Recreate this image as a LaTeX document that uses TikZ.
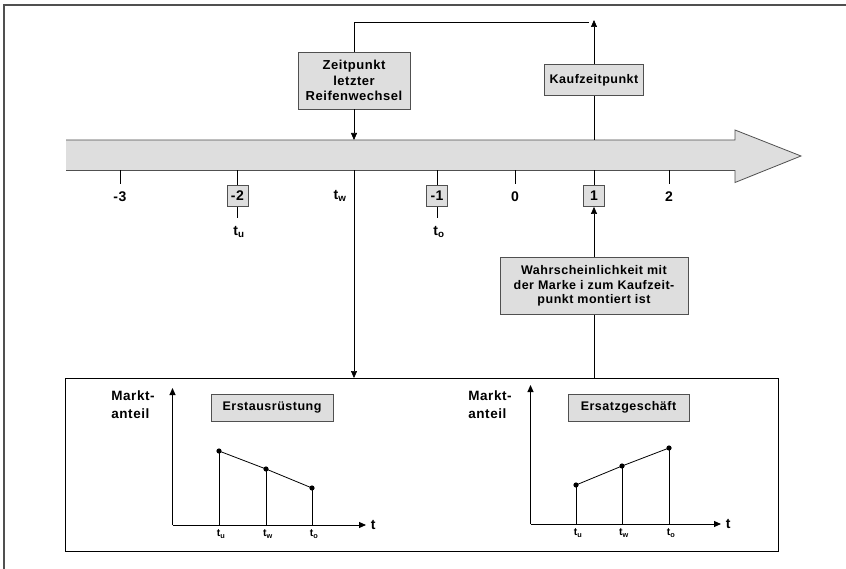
\documentclass[tikz,border=0pt]{standalone}
\usepackage{fontspec}
\setmainfont{Liberation Sans}[LetterSpace=4.0]
\usetikzlibrary{arrows.meta,positioning,calc}
\definecolor{boxG}{HTML}{DEDEDE}
\definecolor{lineG}{HTML}{505050}

\begin{document}
\begin{tikzpicture}[x=1pt,y=-1pt,
  every node/.style={font=\fontsize{12.5}{15}\selectfont\bfseries},
  lbl/.style={fill=boxG,draw=lineG,line width=0.8pt,align=center,inner sep=2pt},
  arr/.style={-{Triangle[length=7pt,width=6pt]},line width=0.6pt},
  num/.style={font=\fontsize{14}{16}\selectfont\bfseries},
  sub/.style={font=\fontsize{10.5}{12}\selectfont\bfseries}]
  \useasboundingbox (0,0) rectangle (846,569);
  \draw[lineG,line width=1.2pt] (846,5) -- (4,5) -- (4,569);
  % time arrow
  \fill[boxG] (66,140) -- (735,140) -- (735,130) -- (801,156) -- (735,182.5) -- (735,170.5) -- (66,170.5) -- cycle;
  \draw[lineG,line width=0.8pt] (66,140) -- (735,140) -- (735,130) -- (801,156) -- (735,182.5) -- (735,170.5) -- (66,170.5);
  \coordinate (bandtop) at (0,140);
  \coordinate (bandbot) at (0,170.5);
  \foreach \x/\n/\t in {120/m3/-3, 515/p0/0, 669/p2/2}{
    \draw[line width=1pt] (\x,170.5) -- (\x,184);
    \node[num] (\n) at (\x,197) {\t};}
  \foreach \x/\n/\t in {237.5/m2/-2, 437/m1/-1, 594/p1/1}{
    \node[lbl,num,minimum size=21pt,inner sep=1pt] (\n) at (\x,196) {\t};
    \draw[line width=1pt] (\x,170.5) -- (\n.north);}
  \draw[line width=1pt] (m2.south) -- ++(0,11);
  \draw[line width=1pt] (m1.south) -- ++(0,11);
  \node[num] (tu) at (239,232) {t\textsubscript{u}};
  \node[num] (to) at (439,232) {t\textsubscript{o}};
  \node[num] (tw) at (340,196) {t\textsubscript{w}};
  % boxes
  \node[lbl,minimum width=112pt,minimum height=57pt,font=\fontsize{13}{15.4}\selectfont\bfseries] (zeit) at (354,80.5) {Zeitpunkt\\letzter\\Reifenwechsel};
  \node[lbl,minimum width=99pt,minimum height=31pt] (kauf) at (594,80) {Kaufzeitpunkt};
  \node[lbl,minimum width=188pt,minimum height=57pt,font=\fontsize{12.5}{14.5}\selectfont\bfseries] (wahr) at (594,286) {Wahrscheinlichkeit mit\\der Marke i zum Kaufzeit-\\punkt montiert ist};
  \node[draw,line width=1pt,minimum width=713pt,minimum height=172.5pt] (panel) at (421.5,464.8) {};
  \coordinate (topend) at (589,22);
  \coordinate (top) at (594,20);
  % connectors
  \draw[line width=0.6pt] (zeit.north) |- (topend);
  \draw[arr] (zeit.south) -- (zeit.south |- bandtop);
  \draw[arr] (zeit.south |- bandbot) -- (zeit.south |- panel.north);
  \draw[line width=0.6pt] (kauf.south |- bandtop) -- (kauf.south);
  \draw[arr] (kauf.north) -- (kauf.north |- top);
  \draw[arr] (wahr.north) -- (p1.south);
  \draw[line width=0.6pt] (p1.south |- panel.north) -- (wahr.south);
  % charts
  \node[align=left,font=\fontsize{13.5}{15}\selectfont\bfseries] (ma1) at (133,404.5) {Markt-\\[3pt]anteil};
  \node[align=left,font=\fontsize{13.5}{15}\selectfont\bfseries] (ma2) at (490,404.5) {Markt-\\[3pt]anteil};
  \node[lbl,minimum width=122pt,minimum height=27pt] (erst) at (272,407.5) {Erstausrüstung};
  \node[lbl,minimum width=121pt,minimum height=27pt] (ersatz) at (628.5,407.5) {Ersatzgeschäft};
  \draw[arr,line width=0.9pt] (172.5,525) -- (172.5,388);
  \draw[arr,line width=0.9pt] (172.5,525) -- (366,525) node[num,right=1pt] (t1) {t};
  \draw[arr,line width=0.9pt] (530.5,524) -- (530.5,385);
  \draw[arr,line width=0.9pt] (530.5,524) -- (721,524) node[num,right=1pt] (t2) {t};
  \foreach \x/\y/\s in {219/451/u, 266/469/w, 312/488/o}{
    \draw[line width=0.7pt] (\x,525) -- (\x,\y);
    \fill (\x,\y) circle (2.6);
    \node[sub] at (\x+2,534) {t\textsubscript{\s}};}
  \draw[line width=0.8pt] (219,451) -- (266,469) -- (312,488);
  \foreach \x/\y/\s in {576/485/u, 622/466/w, 669/448/o}{
    \draw[line width=0.7pt] (\x,524) -- (\x,\y);
    \fill (\x,\y) circle (2.6);
    \node[sub] at (\x+2,533) {t\textsubscript{\s}};}
  \draw[line width=0.8pt] (576,485) -- (622,466) -- (669,448);
\end{tikzpicture}
\end{document}
